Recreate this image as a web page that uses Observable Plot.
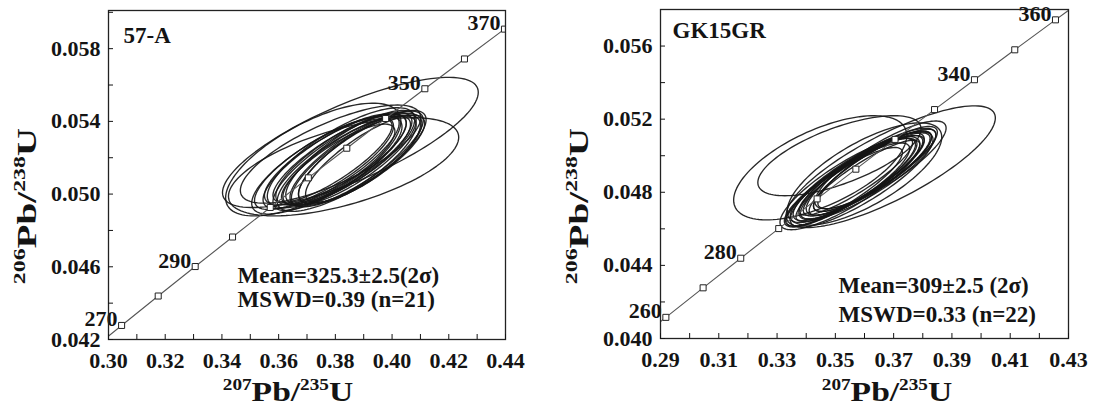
<!DOCTYPE html>
<html><head><meta charset="utf-8">
<script src="https://cdn.jsdelivr.net/npm/d3@7"></script>
<script src="https://cdn.jsdelivr.net/npm/@observablehq/plot@0.6"></script>
<style>
html,body{margin:0;padding:0;background:#fff;}
#wrap{position:relative;width:1093px;height:409px;overflow:hidden;background:#fff;}
#left{position:absolute;left:0;top:0;}
#right{position:absolute;left:546px;top:0;}
</style></head>
<body><div id="wrap"><div id="left"></div><div id="right"></div></div>
<script>
// ---- Concordia (age in Ma, 207Pb/235U, 206Pb/238U) ----
const concAge = [250,260,270,280,290,300,310,320,330,340,350,360,370,380];
const concX = [0.27918,0.29184,0.30462,0.31753,0.33057,0.34374,0.35704,0.37047,0.38403,0.39773,0.41156,0.42553,0.43964,0.45389];
const concY = [0.039543,0.041157,0.042773,0.044392,0.046014,0.047638,0.049264,0.050893,0.052524,0.054158,0.055795,0.057434,0.059076,0.060719];

// ---- Panel 57-A ----
const leftName = "57-A";
const leftMean = "Mean=325.3±2.5(2σ)";
const leftMswd = "MSWD=0.39 (n=21)";
const leftMarkerAges = [270,280,290,300,310,320,330,340,350,360,370];
const leftLabelAges = [270,290,350,370];
const leftXTicks = [0.30,0.31,0.32,0.33,0.34,0.35,0.36,0.37,0.38,0.39,0.40,0.41,0.42,0.43,0.44];
const leftXLabels = [0.30,0.32,0.34,0.36,0.38,0.40,0.42,0.44];
const leftYTicks = [0.042,0.044,0.046,0.048,0.050,0.052,0.054,0.056,0.058,0.060];
const leftYLabels = [0.042,0.046,0.050,0.054,0.058];
// error ellipses: centre x, half-extent in x, centre y, half-extent in y, correlation
const leftCx  = [0.3760,0.3785,0.3800,0.3815,0.3830,0.3840,0.3855,0.3865,0.3875,0.3885,0.3895,0.3770,0.3790,0.3820,0.3850,0.3905,0.3810, 0.3853,0.3829,0.3722,0.3783];
const leftAx  = [0.0245,0.0240,0.0250,0.0235,0.0240,0.0225,0.0230,0.0220,0.0235,0.0215,0.0225,0.0265,0.0210,0.0260,0.0255,0.0210,0.0200, 0.0451,0.0406,0.0309,0.0318];
const leftCy  = [0.05170,0.05180,0.05190,0.05175,0.05195,0.05185,0.05200,0.05180,0.05195,0.05190,0.05205,0.05160,0.05185,0.05200,0.05175,0.05195,0.05165, 0.05284,0.05150,0.05190,0.05220];
const leftAy  = [0.00255,0.00260,0.00250,0.00265,0.00255,0.00245,0.00260,0.00250,0.00262,0.00245,0.00255,0.00270,0.00230,0.00275,0.00270,0.00240,0.00220, 0.00358,0.00270,0.00310,0.00270];
const leftRho = [0.80,0.81,0.79,0.82,0.80,0.81,0.79,0.80,0.81,0.78,0.80,0.78,0.83,0.77,0.79,0.81,0.82, 0.77,0.60,0.68,0.74];

// ---- Panel GK15GR ----
const rightName = "GK15GR";
const rightMean = "Mean=309±2.5 (2σ)";
const rightMswd = "MSWD=0.33 (n=22)";
const rightMarkerAges = [260,270,280,290,300,310,320,330,340,350,360];
const rightLabelAges = [260,280,340,360];
const rightXTicks = [0.29,0.30,0.31,0.32,0.33,0.34,0.35,0.36,0.37,0.38,0.39,0.40,0.41,0.42,0.43];
const rightXLabels = [0.29,0.31,0.33,0.35,0.37,0.39,0.41,0.43];
const rightYTicks = [0.040,0.042,0.044,0.046,0.048,0.050,0.052,0.054,0.056];
const rightYLabels = [0.040,0.044,0.048,0.052,0.056];
const rightCx  = [0.3540,0.3555,0.3565,0.3575,0.3585,0.3595,0.3605,0.3615,0.3625,0.3635,0.3550,0.3570,0.3590,0.3610,0.3645,0.3530,0.3600,0.3655, 0.3690,0.3448,0.3514,0.3600];
const rightAx  = [0.0215,0.0225,0.0210,0.0230,0.0220,0.0205,0.0225,0.0215,0.0200,0.0210,0.0240,0.0195,0.0245,0.0235,0.0205,0.0200,0.0190,0.0225, 0.0359,0.0297,0.0280,0.0265];
const rightCy  = [0.04840,0.04855,0.04870,0.04880,0.04875,0.04890,0.04895,0.04905,0.04910,0.04920,0.04850,0.04885,0.04870,0.04900,0.04935,0.04830,0.04880,0.04950, 0.04940,0.04934,0.05000,0.04900];
const rightAy  = [0.00230,0.00240,0.00225,0.00245,0.00235,0.00220,0.00240,0.00230,0.00215,0.00225,0.00255,0.00210,0.00260,0.00250,0.00225,0.00215,0.00205,0.00240, 0.00333,0.00285,0.00219,0.00280];
const rightRho = [0.86,0.87,0.85,0.86,0.88,0.86,0.87,0.85,0.86,0.87,0.84,0.88,0.84,0.85,0.86,0.87,0.88,0.84, 0.80,0.62,0.67,0.72];

const FONT = "'Liberation Serif','Times New Roman',Times,serif";

function ellipsePoints(cx, ax, cy, ay, rho) {
  const pts = [];
  const N = 120;
  cx.forEach((_, i) => {
    const s = Math.sqrt(1 - rho[i] * rho[i]);
    for (let k = 0; k < N; k++) {
      const t = 2 * Math.PI * k / N;
      pts.push({id: i, x: cx[i] + ax[i] * Math.cos(t), y: cy[i] + ay[i] * (rho[i] * Math.cos(t) + s * Math.sin(t))});
    }
  });
  return pts;
}

const concordia = concAge.map((a, i) => ({age: a, x: concX[i], y: concY[i]}));
const isIn = (arr, d) => arr.some(m => Math.abs(m - d) < 1e-9);

function panel(o) {
  const markers = concordia.filter(d => o.markerAges.includes(d.age));
  const labels = concordia.filter(d => o.labelAges.includes(d.age));
  return Plot.plot({
    width: o.width, height: 409,
    marginLeft: o.mL, marginRight: o.mR, marginTop: o.mT, marginBottom: o.mB,
    x: {domain: o.xDomain, axis: null, label: null},
    y: {domain: o.yDomain, axis: null, label: null},
    style: {fontFamily: FONT, fontWeight: "bold", fontSize: "22px", color: "#141414", background: "transparent", overflow: "visible"},
    marks: [
      Plot.line(ellipsePoints(o.cx, o.ax, o.cy, o.ay, o.rho), {x: "x", y: "y", z: "id", curve: "linear-closed", stroke: "#161616", strokeWidth: 1.35, strokeOpacity: 0.92, clip: true}),
      Plot.line(concordia, {x: "x", y: "y", stroke: "#555", strokeWidth: 1.1, clip: true}),
      Plot.dot(markers, {x: "x", y: "y", symbol: "square", r: 3.4, fill: "white", stroke: "#222", strokeWidth: 1, clip: true}),
      Plot.text(labels, {x: "x", y: "y", text: d => String(d.age), textAnchor: "end", lineAnchor: "middle", dx: -4, dy: -6, fontSize: 22}),
      Plot.frame({stroke: "#222", strokeWidth: 1.3}),
      Plot.axisX(o.xTicks, {label: null, tickSize: -5, tickPadding: 18, tickFormat: d => isIn(o.xLabels, d) ? d.toFixed(2) : "", fontSize: 22}),
      Plot.axisY(o.yTicks, {label: null, tickSize: -5, tickPadding: 13, tickFormat: d => isIn(o.yLabels, d) ? d.toFixed(3) : "", fontSize: 22}),
      Plot.text([o.name], {frameAnchor: "top-left", textAnchor: "start", lineAnchor: "middle", dx: o.nameDx, dy: o.nameDy, fontSize: 23}),
      Plot.text([o.mean], {frameAnchor: "bottom-left", textAnchor: "start", lineAnchor: "middle", dx: o.statDx, dy: o.meanDy, fontSize: 23}),
      Plot.text([o.mswd], {frameAnchor: "bottom-left", textAnchor: "start", lineAnchor: "middle", dx: o.statDx, dy: o.mswdDy, fontSize: 23})
    ]
  });
}

function addTitle(svg, x, y, rot, stretch, sup1, main1, sup2, main2, supSize, mainSize) {
  const g = d3.select(svg).append("g").attr("transform", `translate(${x},${y}) rotate(${rot}) scale(${stretch},1)`);
  const t = g.append("text").attr("text-anchor", "middle").attr("font-family", FONT).attr("font-weight", "bold").attr("fill", "#141414");
  const up = mainSize * 0.4;
  t.append("tspan").attr("font-size", supSize).attr("dy", -up).text(sup1);
  t.append("tspan").attr("font-size", mainSize).attr("dy", up).text(main1);
  t.append("tspan").attr("font-size", supSize).attr("dy", -up).text(sup2);
  t.append("tspan").attr("font-size", mainSize).attr("dy", up).text(main2);
}

const left = panel({
  width: 546, mL: 108, mR: 41, mT: 10, mB: 70,
  xDomain: [0.30, 0.44], yDomain: [0.042, 0.0601],
  xTicks: leftXTicks, xLabels: leftXLabels, yTicks: leftYTicks, yLabels: leftYLabels,
  markerAges: leftMarkerAges, labelAges: leftLabelAges,
  cx: leftCx, ax: leftAx, cy: leftCy, ay: leftAy, rho: leftRho,
  name: leftName, mean: leftMean, mswd: leftMswd,
  nameDx: 15, nameDy: 25, statDx: 129, meanDy: -64, mswdDy: -40
});
const right = panel({
  width: 547, mL: 114, mR: 25, mT: 9, mB: 71,
  xDomain: [0.29, 0.43], yDomain: [0.040, 0.0580],
  xTicks: rightXTicks, xLabels: rightXLabels, yTicks: rightYTicks, yLabels: rightYLabels,
  markerAges: rightMarkerAges, labelAges: rightLabelAges,
  cx: rightCx, ax: rightAx, cy: rightCy, ay: rightAy, rho: rightRho,
  name: rightName, mean: rightMean, mswd: rightMswd,
  nameDx: 12, nameDy: 21, statDx: 178, meanDy: -53, mswdDy: -24
});

addTitle(left, 288, 401, 0, 1.2, "207", "Pb/", "235", "U", 16, 28);
addTitle(left, 36, 206, -90, 1.4, "206", "Pb/", "238", "U", 17, 28);
addTitle(right, 341, 401, 0, 1.2, "207", "Pb/", "235", "U", 16, 28);
addTitle(right, 42, 206, -90, 1.4, "206", "Pb/", "238", "U", 17, 28);

document.getElementById("left").appendChild(left);
document.getElementById("right").appendChild(right);
</script>
</body></html>
